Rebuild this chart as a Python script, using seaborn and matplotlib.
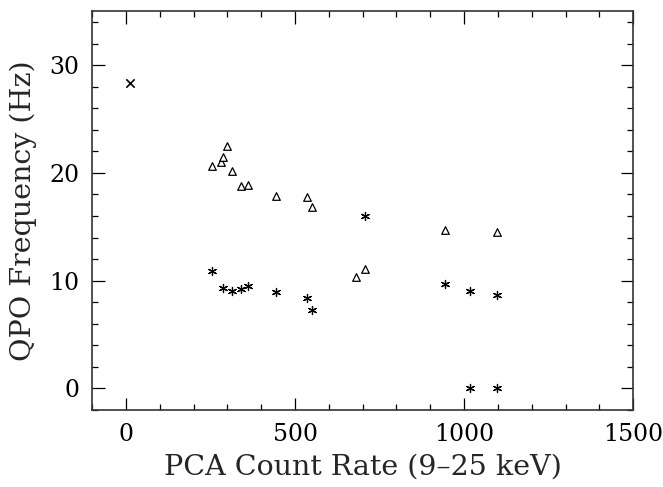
import pandas as pd
import matplotlib
matplotlib.use("Agg")
import matplotlib.pyplot as plt
import seaborn as sns
from matplotlib.ticker import MultipleLocator

sns.set_theme(style="ticks")
plt.rcParams['font.family'] = ['DejaVu Serif', 'DejaVu Sans']

# upper QPO (triangles)
tri_rate = [253, 282, 288, 300, 314, 340, 361, 445, 535, 550, 679, 708, 944, 1096]
tri_freq = [20.62, 21.05, 21.45, 22.47, 20.13, 18.74, 18.84, 17.9, 17.73, 16.8, 10.34, 11.11, 14.68, 14.53]
# lower QPO (asterisks)
star_rate = [253, 288, 314, 340, 361, 445, 535, 550, 708, 944, 1017, 1096, 1017, 1096]
star_freq = [10.92, 9.35, 9.05, 9.23, 9.48, 8.96, 8.43, 7.26, 15.97, 9.67, 9.08, 8.65, 0.03, 0.03]
# single point (x)
x_rate = [12]
x_freq = [28.3]

tri = pd.DataFrame({"rate": tri_rate, "freq": tri_freq})
star = pd.DataFrame({"rate": star_rate, "freq": star_freq})
xpt = pd.DataFrame({"rate": x_rate, "freq": x_freq})

fig = plt.figure(figsize=(6.63, 4.87), dpi=100)
ax = fig.add_axes([0.139, 0.158, 0.816, 0.819])

sns.scatterplot(data=tri, x="rate", y="freq", marker="^", s=30, facecolor="white",
                edgecolor="black", linewidth=0.9, ax=ax)
sns.scatterplot(data=star, x="rate", y="freq", marker=(6, 2, 0), s=34, color="black",
                edgecolor="black", linewidth=0.9, ax=ax)
sns.scatterplot(data=xpt, x="rate", y="freq", marker="x", s=36, color="black",
                linewidth=1.2, ax=ax)

ax.set_xlim(-100, 1500)
ax.set_ylim(-2, 35)
ax.xaxis.set_major_locator(MultipleLocator(500))
ax.xaxis.set_minor_locator(MultipleLocator(100))
ax.yaxis.set_major_locator(MultipleLocator(10))
ax.yaxis.set_minor_locator(MultipleLocator(2))
ax.tick_params(which="both", direction="in", top=True, right=True, colors="black",
               width=0.9, labelsize=17)
ax.tick_params(which="major", length=9, pad=9)
ax.tick_params(which="minor", length=4.5)
for sp in ax.spines.values():
    sp.set_linewidth(1.2)
    sp.set_color("#333333")

ax.set_xlabel("PCA Count Rate (9\u201325 keV)", fontsize=20.5, labelpad=6)
ax.set_ylabel("QPO Frequency (Hz)", fontsize=20.5, labelpad=9)

fig.savefig("out.png", dpi=100)
